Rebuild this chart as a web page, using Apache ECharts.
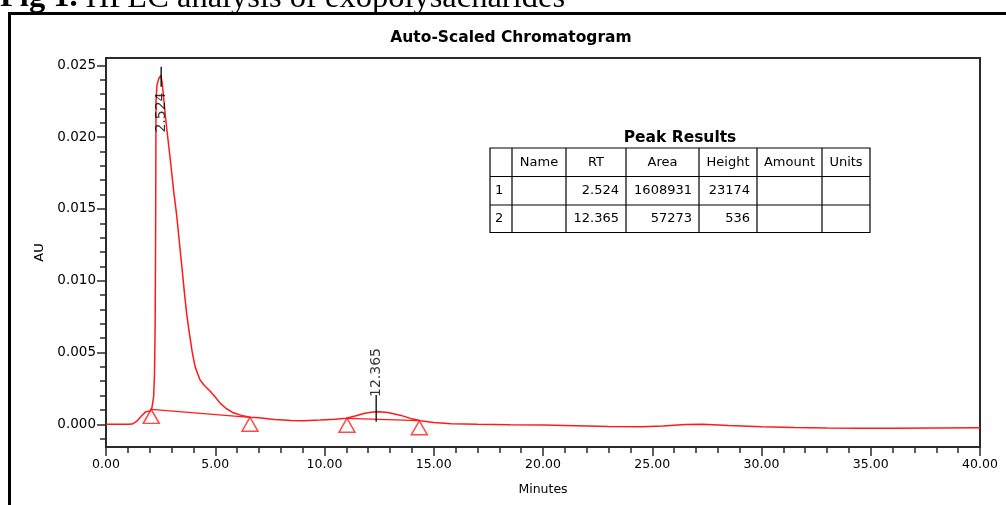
<!DOCTYPE html>
<html><head><meta charset="utf-8">
<script src="https://cdn.jsdelivr.net/npm/echarts@6/dist/echarts.min.js"></script>
<style>html,body{margin:0;padding:0;background:#ffffff}#c{width:1006px;height:505px}</style>
</head><body><div id="c"></div>
<script>
// ---- data ----
const timeMin = [0, 0.5, 1.0, 1.2, 1.4, 1.6, 1.8, 2.01, 2.10, 2.18, 2.22, 2.25, 2.27, 2.28, 2.29, 2.33, 2.42, 2.51, 2.57, 2.62, 2.75, 2.93, 3.1, 3.24, 3.35, 3.47, 3.6, 3.7, 3.8, 3.95, 4.08, 4.3, 4.5, 4.77, 5.0, 5.23, 5.5, 5.83, 6.2, 6.6, 7.0, 7.7, 8.5, 9.0, 9.8, 10.5, 11.0, 11.4, 11.8, 12.2, 12.5, 12.9, 13.5, 14.0, 14.4, 15.0, 15.8, 17.0, 18.5, 20.0, 21.5, 23.0, 24.5, 25.5, 26.5, 27.3, 28.5, 30.0, 31.5, 33.0, 34.5, 36.0, 38.0, 40.0];
const signalAU = [0, 0, 0, 0.00002, 0.0002, 0.00055, 0.00085, 0.00092, 0.00115, 0.0019, 0.0035, 0.0070, 0.0130, 0.0180, 0.0225, 0.0236, 0.0241, 0.0243, 0.0238, 0.0230, 0.0210, 0.0186, 0.0162, 0.0145, 0.0128, 0.0110, 0.0090, 0.0076, 0.0065, 0.0050, 0.0040, 0.0031, 0.0027, 0.0023, 0.0019, 0.00146, 0.0011, 0.00080, 0.00062, 0.00050, 0.00045, 0.00033, 0.00026, 0.00025, 0.00030, 0.00036, 0.00042, 0.00058, 0.00075, 0.00086, 0.00088, 0.00082, 0.00062, 0.00038, 0.00025, 0.00012, 0.00004, 0.0, -0.00003, -0.00005, -0.0001, -0.00015, -0.00017, -0.00012, -0.00002, 0.0, -0.00008, -0.00017, -0.00022, -0.00026, -0.00028, -0.00027, -0.00025, -0.00024];
const baselineStartMin = [2.07, 11.03];
const baselineStartAU = [0.00104, 0.00042];
const baselineEndMin = [6.59, 14.34];
const baselineEndAU = [0.00049, 0.00025];
const peakRT = [2.524, 12.365];
const peakTickTopAU = [0.0249, 0.00204];
const peakTickBottomAU = [0.02351, 0.00018];
const peakLabelAU = [0.02171, 0.00361];
const yLabelValues = [0, 0.005, 0.010, 0.015, 0.020, 0.025];
const yMinorValues = [-0.001, 0, 0.001, 0.002, 0.003, 0.004, 0.005, 0.006, 0.007, 0.008, 0.009, 0.010, 0.011, 0.012, 0.013, 0.014, 0.015, 0.016, 0.017, 0.018, 0.019, 0.020, 0.021, 0.022, 0.023, 0.024, 0.025];
const tableHeaders = ['', 'Name', 'RT', 'Area', 'Height', 'Amount', 'Units'];
const tableIndex = ['1', '2'];
const tableRT = ['2.524', '12.365'];
const tableArea = ['1608931', '57273'];
const tableHeight = ['23174', '536'];
const captionBold = 'Fig 1.';
const captionText = ' HPLC analysis of exopolysacharides';
const chartTitle = 'Auto-Scaled Chromatogram';
const tableTitle = 'Peak Results';

// ---- build ----
const chart = echarts.init(document.getElementById('c'), null, {renderer: 'canvas'});
const RED = '#ff1a1a';
const FONT = 'DejaVu Sans';
const curve = timeMin.map((t, i) => [t, signalAU[i]]);
const triangles = baselineStartMin.map((t, i) => [t, baselineStartAU[i]])
  .concat(baselineEndMin.map((t, i) => [t, baselineEndAU[i]]));

const series = [{
  type: 'line', data: curve, showSymbol: false, symbol: 'none',
  lineStyle: {color: RED, width: 1.5}, silent: true, z: 3
}];
baselineStartMin.forEach((t, i) => {
  series.push({type: 'line', data: [[t, baselineStartAU[i]], [baselineEndMin[i], baselineEndAU[i]]],
    symbol: 'none', lineStyle: {color: RED, width: 1.3}, silent: true, z: 3});
});
series.push({type: 'scatter', data: triangles, symbol: 'triangle', symbolSize: [16, 14],
  symbolOffset: [0, '50%'], itemStyle: {color: 'rgba(0,0,0,0)', borderColor: RED, borderWidth: 1.5},
  silent: true, z: 4});
peakRT.forEach((rt, i) => {
  series.push({type: 'line', data: [[rt, peakTickTopAU[i]], [rt, peakTickBottomAU[i]]],
    symbol: 'none', lineStyle: {color: '#000', width: 1.3}, silent: true, z: 5});
});
series.push({type: 'scatter', data: peakRT.map((rt, i) => [rt, peakLabelAU[i]]),
  symbol: 'circle', symbolSize: 1, itemStyle: {color: 'rgba(0,0,0,0)'}, silent: true, z: 6,
  label: {show: true, position: 'inside', rotate: 90, color: '#000', fontFamily: FONT, fontSize: 14,
    formatter: p => p.value[0].toFixed(3)}});

// table graphics
const colEdges = [490, 512, 566, 626, 699, 757, 822, 870];
const rowEdges = [148, 176.5, 205, 232.5];
const tg = [];
tg.push({type: 'rect', shape: {x: colEdges[0], y: rowEdges[0], width: colEdges[7] - colEdges[0], height: rowEdges[3] - rowEdges[0]},
  style: {fill: '#fff', stroke: '#000', lineWidth: 1.2}});
colEdges.slice(1, 7).forEach(x => tg.push({type: 'line', shape: {x1: x, y1: rowEdges[0], x2: x, y2: rowEdges[3]}, style: {stroke: '#000', lineWidth: 1.2}}));
rowEdges.slice(1, 3).forEach(y => tg.push({type: 'line', shape: {x1: colEdges[0], y1: y, x2: colEdges[7], y2: y}, style: {stroke: '#000', lineWidth: 1.2}}));
const tFont = '13px "DejaVu Sans"';
tableHeaders.forEach((h, c) => {
  if (!h) return;
  tg.push({type: 'text', style: {text: h, x: (colEdges[c] + colEdges[c + 1]) / 2, y: (rowEdges[0] + rowEdges[1]) / 2,
    align: 'center', verticalAlign: 'middle', font: tFont, fill: '#000'}});
});
[0, 1].forEach(r => {
  const yc = (rowEdges[r + 1] + rowEdges[r + 2]) / 2;
  tg.push({type: 'text', style: {text: tableIndex[r], x: colEdges[0] + 5, y: yc, align: 'left', verticalAlign: 'middle', font: tFont, fill: '#000'}});
  [[tableRT, 3], [tableArea, 4], [tableHeight, 5]].forEach(([arr, c]) => {
    tg.push({type: 'text', style: {text: arr[r], x: colEdges[c] - 7, y: yc, align: 'right', verticalAlign: 'middle', font: tFont, fill: '#000'}});
  });
});
tg.push({type: 'text', style: {text: tableTitle, x: 680, y: 138, align: 'center', verticalAlign: 'middle',
  font: 'bold 15.5px "DejaVu Sans"', fill: '#000'}});

const graphic = [
  {type: 'polyline', shape: {points: [[9.5, 506], [9.5, 13.5], [1007, 13.5]]}, style: {stroke: '#000', lineWidth: 3, fill: null}, z: 10},
  {type: 'text', style: {text: '{b|' + captionBold + '}' + captionText, x: 0, y: -2, verticalAlign: 'middle',
    font: '32.5px "Liberation Serif"', fill: '#000',
    rich: {b: {fontFamily: 'Liberation Serif', fontSize: 32.5, fontWeight: 'bold', fill: '#000'}}}, z: 10},
  {type: 'text', style: {text: chartTitle, x: 511, y: 38, align: 'center', verticalAlign: 'middle',
    font: 'bold 15.5px "DejaVu Sans"', fill: '#000'}, z: 10},
  {type: 'group', children: tg, z: 20}
];

const axisCol = '#2b2b2b';
const option = {
  backgroundColor: '#ffffff',
  animation: false,
  grid: {left: 106, top: 58, right: 26, bottom: 58, show: true, borderColor: axisCol, borderWidth: 2, backgroundColor: '#fff'},
  xAxis: [{
    type: 'value', min: 0, max: 40, interval: 5, name: 'Minutes', nameLocation: 'middle', nameGap: 36,
    nameTextStyle: {fontFamily: FONT, fontSize: 12.5, color: '#000'},
    axisLine: {show: true, onZero: false, lineStyle: {color: axisCol, width: 2}},
    axisTick: {show: true, length: 9, lineStyle: {color: axisCol, width: 1.5}},
    axisLabel: {fontFamily: FONT, fontSize: 12.5, color: '#000', margin: 11, formatter: v => v.toFixed(2)},
    splitLine: {show: false}
  }, {
    type: 'value', min: 0, max: 40, interval: 1, position: 'bottom',
    axisLine: {show: false, onZero: false}, axisTick: {show: true, length: 6, lineStyle: {color: axisCol, width: 1.5}},
    axisLabel: {show: false}, splitLine: {show: false}
  }],
  yAxis: [{
    type: 'value', min: -0.00158, max: 0.02551, name: 'AU', nameLocation: 'middle', nameGap: 60, nameRotate: 90,
    nameTextStyle: {fontFamily: FONT, fontSize: 13, color: '#000'},
    axisLine: {show: true, onZero: false, lineStyle: {color: axisCol, width: 2}},
    axisTick: {show: true, length: 9, customValues: yLabelValues, lineStyle: {color: axisCol, width: 1.5}},
    axisLabel: {fontFamily: FONT, fontSize: 13.5, color: '#000', margin: 10, customValues: yLabelValues, formatter: v => v.toFixed(3)},
    splitLine: {show: false}
  }, {
    type: 'value', min: -0.00158, max: 0.02551, position: 'left',
    axisLine: {show: false, onZero: false},
    axisTick: {show: true, length: 6, customValues: yMinorValues, lineStyle: {color: axisCol, width: 1.5}},
    axisLabel: {show: false}, splitLine: {show: false}
  }],
  series: series,
  graphic: graphic
};
chart.setOption(option);
</script>
</body></html>
